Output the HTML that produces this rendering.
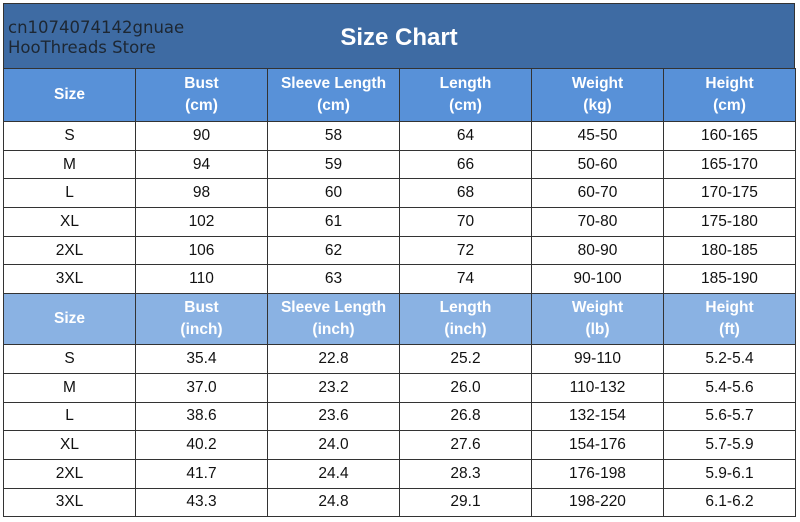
<!DOCTYPE html>
<html><head><meta charset="utf-8"><style>
body{margin:0;width:800px;height:522px;background:#fff;overflow:hidden;font-family:"Liberation Sans",sans-serif}
#wrap{position:absolute;left:3px;top:3px;width:792px;}
#title{height:65px;background:#3e6ba3;border:1px solid #333;border-bottom:none;position:relative;box-sizing:border-box}
#store{position:absolute;left:4px;top:14px;font-family:"DejaVu Sans",sans-serif;font-size:16.5px;line-height:20px;color:#1d2733}
#t{position:absolute;left:0;right:0;top:20px;text-align:center;font-weight:bold;font-size:24px;color:#fff}
table{border-collapse:collapse;width:792px;table-layout:fixed}
td{border:1.5px solid #333;text-align:center;font-size:15.5px;color:#111;padding:0}
tr{height:28.7px}
tr.h1{height:53px}
tr.h2{height:51px}
tr.h1 td{background:#5891d8;color:#fff;font-weight:bold;line-height:22px}
tr.h2 td{background:#8ab2e3;color:#fff;font-weight:bold;line-height:22px}
</style></head><body>
<div id="wrap">
<div id="title"><div id="store">cn1074074142gnuae<br>HooThreads Store</div><div id="t">Size Chart</div></div>
<table>
<colgroup><col style="width:132px"><col style="width:132px"><col style="width:132px"><col style="width:132px"><col style="width:132px"><col style="width:132px"></colgroup>
<tr class="h1"><td>Size</td><td>Bust<br>(cm)</td><td>Sleeve Length<br>(cm)</td><td>Length<br>(cm)</td><td>Weight<br>(kg)</td><td>Height<br>(cm)</td></tr>
<tr><td>S</td><td>90</td><td>58</td><td>64</td><td>45-50</td><td>160-165</td></tr>
<tr><td>M</td><td>94</td><td>59</td><td>66</td><td>50-60</td><td>165-170</td></tr>
<tr><td>L</td><td>98</td><td>60</td><td>68</td><td>60-70</td><td>170-175</td></tr>
<tr><td>XL</td><td>102</td><td>61</td><td>70</td><td>70-80</td><td>175-180</td></tr>
<tr><td>2XL</td><td>106</td><td>62</td><td>72</td><td>80-90</td><td>180-185</td></tr>
<tr><td>3XL</td><td>110</td><td>63</td><td>74</td><td>90-100</td><td>185-190</td></tr>
<tr class="h2"><td>Size</td><td>Bust<br>(inch)</td><td>Sleeve Length<br>(inch)</td><td>Length<br>(inch)</td><td>Weight<br>(lb)</td><td>Height<br>(ft)</td></tr>
<tr><td>S</td><td>35.4</td><td>22.8</td><td>25.2</td><td>99-110</td><td>5.2-5.4</td></tr>
<tr><td>M</td><td>37.0</td><td>23.2</td><td>26.0</td><td>110-132</td><td>5.4-5.6</td></tr>
<tr><td>L</td><td>38.6</td><td>23.6</td><td>26.8</td><td>132-154</td><td>5.6-5.7</td></tr>
<tr><td>XL</td><td>40.2</td><td>24.0</td><td>27.6</td><td>154-176</td><td>5.7-5.9</td></tr>
<tr><td>2XL</td><td>41.7</td><td>24.4</td><td>28.3</td><td>176-198</td><td>5.9-6.1</td></tr>
<tr><td>3XL</td><td>43.3</td><td>24.8</td><td>29.1</td><td>198-220</td><td>6.1-6.2</td></tr>
</table>
</div>
</body></html>
